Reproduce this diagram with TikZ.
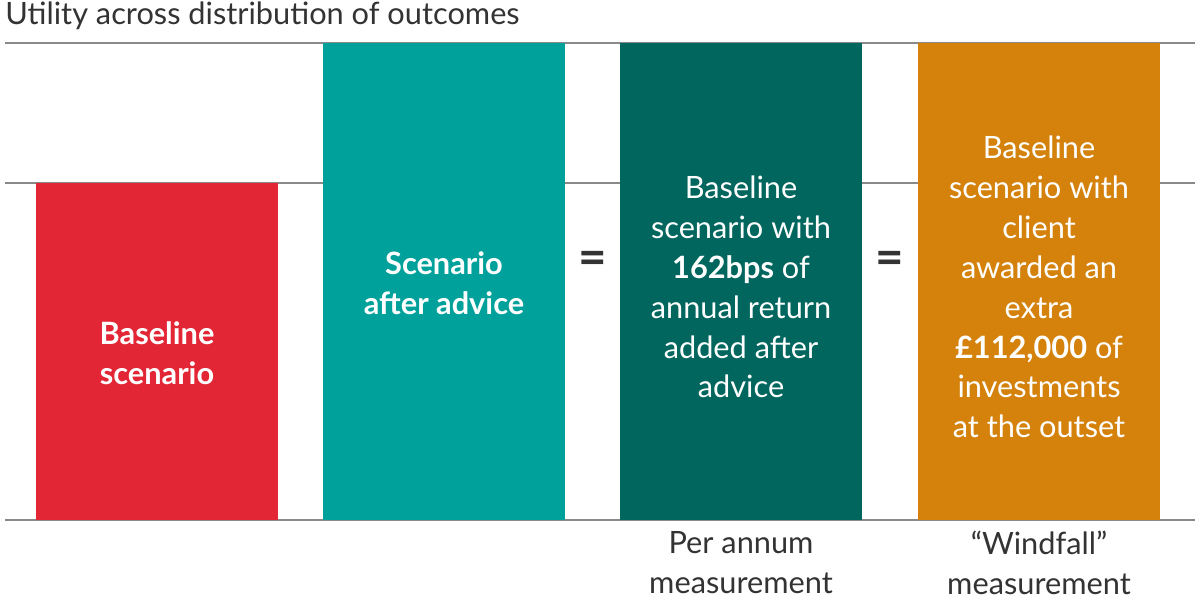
\documentclass[tikz,border=0pt]{standalone}
\usepackage{fontspec}
\setmainfont{Lato}
\definecolor{cred}{HTML}{E32636}
\definecolor{cteal}{HTML}{00A19A}
\definecolor{cdark}{HTML}{00665E}
\definecolor{corange}{HTML}{D4820C}
\definecolor{cline}{HTML}{8A8A8A}
\definecolor{ctext}{HTML}{333333}
\begin{document}
\begin{tikzpicture}[x=0.02cm,y=-0.02cm,
  grid/.style={draw=cline,line width=1.2pt},
  bartext/.style={text=white,align=center,font=\fontsize{17.5}{22.7}\selectfont},
  eqsign/.style={text=ctext,font=\fontsize{28}{28}\selectfont\bfseries},
  lab/.style={text=ctext,align=center,font=\fontsize{17.5}{22.7}\selectfont}]
\useasboundingbox (0,0) rectangle (1200,600);
\draw[grid] (5,43) -- (1195,43);
\draw[grid] (5,183) -- (1195,183);
\draw[grid] (5,520) -- (1195,520);
\fill[cred] (36,183) rectangle (278,520);
\fill[cteal] (323,43) rectangle (565,520);
\fill[cdark] (620,43) rectangle (862,520);
\fill[corange] (918,43) rectangle (1160,520);
\node[anchor=west,text=ctext,font=\fontsize{17.5}{20}\selectfont,inner sep=0pt] (title) at (5,16) {Utility across distribution of outcomes};
\node[bartext] (t1) at (157,353) {\textbf{Baseline}\\\textbf{scenario}};
\node[bartext] (t2) at (444,283) {\textbf{Scenario}\\\textbf{after advice}};
\node[bartext] (t3) at (741,287) {Baseline\\scenario with\\\textbf{162bps} of\\annual return\\added after\\advice};
\node[bartext] (t4) at (1039,287) {Baseline\\scenario with\\client\\awarded an\\extra\\\textbf{£112,000} of\\investments\\at the outset};
\node[eqsign] (e1) at (593,263) {=};
\node[eqsign] (e2) at (890,263) {=};
\node[lab] (l1) at (741,563) {Per annum\\measurement};
\node[lab] (l2) at (1039,563) {“Windfall”\\measurement};
\end{tikzpicture}
\end{document}
